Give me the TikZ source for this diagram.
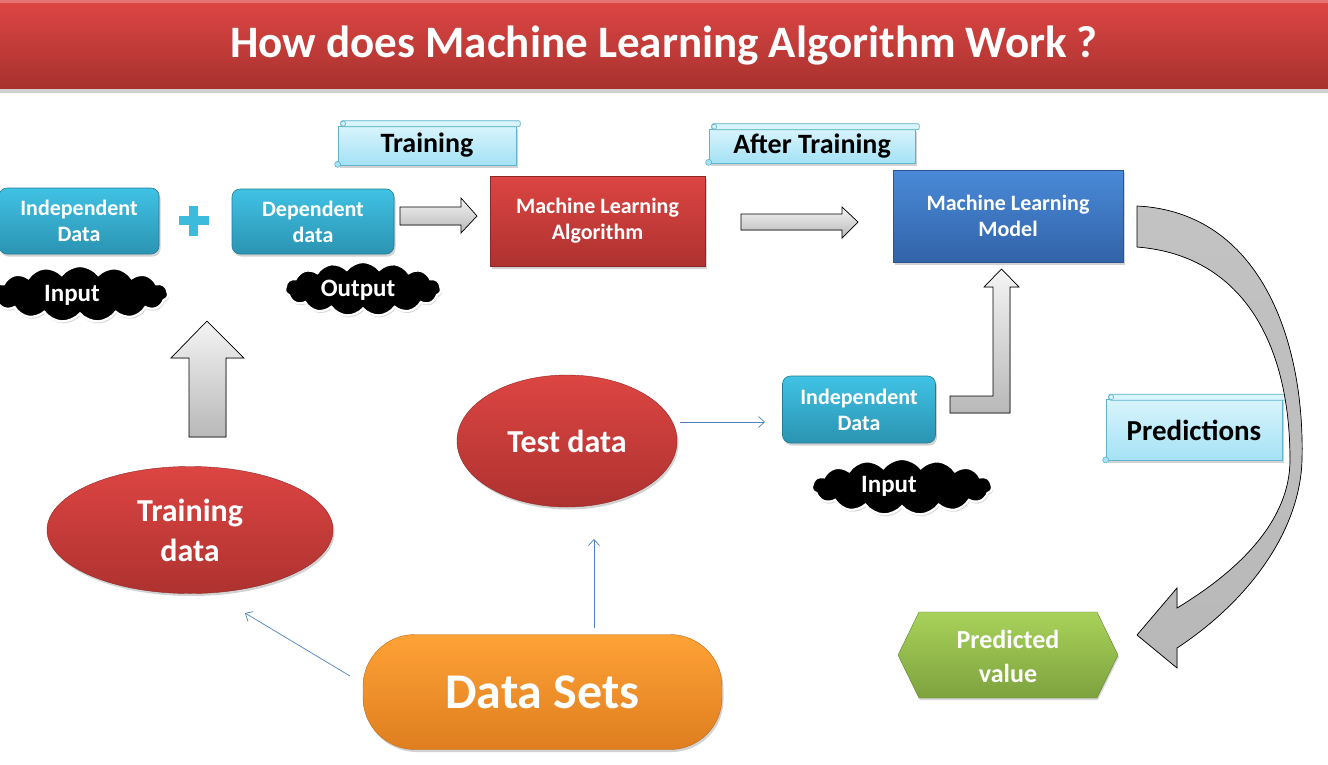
\documentclass[tikz,border=0pt]{standalone}
\usepackage{fontspec}
\setmainfont{Carlito}
\usetikzlibrary{shapes.geometric,shapes.symbols,shadows,calc,arrows.meta}
\definecolor{barT}{HTML}{DE4744}
\definecolor{barB}{HTML}{A8312E}
\definecolor{redT}{HTML}{DC4542}
\definecolor{redB}{HTML}{AE3230}
\definecolor{redD}{HTML}{8E2826}
\definecolor{cyanT}{HTML}{40C2E4}
\definecolor{cyanB}{HTML}{2B93B2}
\definecolor{cyanD}{HTML}{237C96}
\definecolor{blueT}{HTML}{4A8AD8}
\definecolor{blueB}{HTML}{3163A8}
\definecolor{blueD}{HTML}{2A5592}
\definecolor{orT}{HTML}{FFA236}
\definecolor{orB}{HTML}{DE7E1F}
\definecolor{grT}{HTML}{A8D25A}
\definecolor{grB}{HTML}{7DA23E}
\definecolor{scT}{HTML}{D8F4FC}
\definecolor{scB}{HTML}{A4E2F5}
\definecolor{scD}{HTML}{5FB3CB}
\definecolor{arT}{HTML}{F4F4F4}
\definecolor{arB}{HTML}{B8B8B8}
\definecolor{thin}{HTML}{4F81BD}
\tikzset{
  base/.style={align=center, text=white, font=\bfseries\fontsize{22}{26}\selectfont, inner sep=0pt},
  shad/.style={drop shadow={opacity=0.35, shadow xshift=1.5pt, shadow yshift=-2.5pt}},
  cyanbox/.style={base, rectangle, rounded corners=8pt, top color=cyanT, bottom color=cyanB, draw=cyanD, line width=0.6pt, shad},
  redbox/.style={base, rectangle, top color=redT, bottom color=redB, draw=redD, line width=0.6pt, shad},
  bluebox/.style={base, rectangle, top color=blueT, bottom color=blueB, draw=blueD, line width=0.6pt, shad},
  redell/.style={base, ellipse, top color=redT, bottom color=redB, draw=redD, line width=0.4pt, shad, font=\bfseries\fontsize{32}{40}\selectfont},
  pill/.style={base, rectangle, rounded corners=52pt, top color=orT, bottom color=orB, draw=orB!85!black, line width=0.4pt, shad, font=\bfseries\fontsize{50}{56}\selectfont},
  cloudshape/.style={cloud, cloud puffs=15, cloud puff arc=105, inner sep=0pt, fill=black, draw=white, line width=2.2pt, drop shadow={opacity=0.3, shadow xshift=1pt, shadow yshift=-2pt}},
  cloudtext/.style={base, font=\bfseries\fontsize{25}{28}\selectfont},
  scrollbox/.style={rectangle, inner sep=0pt, top color=scT, bottom color=scB, draw=scD, line width=0.7pt, text=black, font=\bfseries\fontsize{28}{30}\selectfont, shad},
  blockarrow/.style={top color=arT, bottom color=arB, draw=black, line width=0.7pt},
  thinarr/.style={draw=thin, line width=0.7pt, -{Straight Barb[length=6pt,width=11pt]}},
}
\newcommand\scrolldeco[1]{%
  \draw[fill=scT, draw=scD, line width=0.7pt, rounded corners=2pt]
    ($(#1.north west)+(3,1)$) rectangle ($(#1.north east)+(4,-5)$);
  \draw[fill=scT, draw=scD, line width=0.6pt] ($(#1.north west)+(5.5,-2)$) circle (2.5pt);
  \draw[fill=scB, draw=scD, line width=0.6pt] ($(#1.south west)+(0,-1)$) circle (3pt);
}
\begin{document}
\begin{tikzpicture}[x=1pt,y=-1pt]
\useasboundingbox (0,0) rectangle (1328,764);
\fill[white] (0,0) rectangle (1328,764);

% title bar
\fill[black, opacity=0.18] (0,88) rectangle (1328,93);
\shade[top color=barT, bottom color=barB] (0,0) rectangle (1328,88);
\fill[white, opacity=0.25] (0,0) rectangle (1328,3);
\node[base, font=\bfseries\fontsize{45}{50}\selectfont] (title) at (664,46) {How does Machine Learning Algorithm Work ?};

% scrolls
\node[scrollbox, minimum width=178pt, minimum height=39pt] (trs) at (427,145.5) {Training};
\scrolldeco{trs}
\node[scrollbox, minimum width=206pt, minimum height=34pt] (ats) at (812,146) {After Training};
\scrolldeco{ats}
\node[scrollbox, minimum width=176pt, minimum height=61pt, font=\bfseries\fontsize{29}{30}\selectfont] (prs) at (1194,430) {Predictions};
\scrolldeco{prs}

% top row
\node[cyanbox, minimum width=160pt, minimum height=66pt] (indL) at (79,221) {Independent\\Data};
\node[cyanbox, minimum width=162pt, minimum height=65pt] (dep) at (313,221.5) {Dependent\\data};
\node[redbox, minimum width=215pt, minimum height=90pt] (mla) at (597.5,221) {Machine Learning\\Algorithm};
\node[bluebox, minimum width=230pt, minimum height=92pt] (mlm) at (1008,216) {Machine Learning\\Model};

% plus sign
\coordinate (pc) at (193.5,220.5);
\filldraw[fill=cyanT!85!cyanB, draw=white, line width=3pt, line join=miter, drop shadow={opacity=0.3, shadow xshift=1pt, shadow yshift=-1.5pt}]
  ($(pc)+(-5.7,-16.5)$) -- ($(pc)+(5.7,-16.5)$) -- ($(pc)+(5.7,-5.7)$) -- ($(pc)+(16.5,-5.7)$)
  -- ($(pc)+(16.5,5.7)$) -- ($(pc)+(5.7,5.7)$) -- ($(pc)+(5.7,16.5)$) -- ($(pc)+(-5.7,16.5)$)
  -- ($(pc)+(-5.7,5.7)$) -- ($(pc)+(-16.5,5.7)$) -- ($(pc)+(-16.5,-5.7)$) -- ($(pc)+(-5.7,-5.7)$) -- cycle;

% clouds
\node[cloudshape, minimum width=176pt, minimum height=56pt] (cl1) at (80,294) {};
\node[cloudtext] (cin1) at (72,295) {Input};
\node[cloudshape, minimum width=156pt, minimum height=54pt] (cl2) at (363,289) {};
\node[cloudtext] (cout) at (358,290) {Output};
\node[cloudshape, minimum width=180pt, minimum height=56pt] (cl3) at (902,487) {};
\node[cloudtext] (cin2) at (889,486) {Input};

% block arrows
\filldraw[blockarrow] (400,207) -- (461,207) -- (461,198) -- (477,216) -- (461,233) -- (461,225) -- (400,225) -- cycle;
\filldraw[blockarrow] (741,214) -- (842,214) -- (842,207) -- (858,222) -- (842,238) -- (842,230) -- (741,230) -- cycle;
\filldraw[blockarrow] (189,437) -- (189,358) -- (171,358) -- (207,321) -- (244,358) -- (226,358) -- (226,437) -- cycle;
\filldraw[blockarrow] (950,396) -- (993,396) -- (993,287) -- (984,287) -- (1001.5,269) -- (1019,287) -- (1010,287) -- (1010,413) -- (950,413) -- cycle;
% curved arrow
\filldraw[draw=black, line width=0.7pt, top color=arB!85!white, bottom color=arB]
  (1137,206) .. controls (1260,212) and (1305,340) .. (1302,460)
  .. controls (1300,530) and (1250,600) .. (1177,648)
  -- (1177,668) -- (1137,635) -- (1177,588) -- (1177,608)
  .. controls (1240,570) and (1290,520) .. (1290,460)
  .. controls (1290,340) and (1240,255) .. (1137,247) -- cycle;

% ellipses and data sets
\node[redell, minimum width=286pt, minimum height=127pt] (trd) at (190,530) {Training\\data};
\node[redell, minimum width=220pt, minimum height=132pt] (ted) at (567,441) {Test data};
\node[cyanbox, minimum width=153pt, minimum height=67pt] (indR) at (859,409.5) {Independent\\Data};
\node[pill, minimum width=359pt, minimum height=115pt] (ds) at (542.5,692) {Data Sets};

% predicted value hexagon
\shade[top color=grT, bottom color=grB, drop shadow={opacity=0.3, shadow xshift=1pt, shadow yshift=-2pt}]
  (898,655) -- (919,612) -- (1097,612) -- (1118,655) -- (1097,698) -- (919,698) -- cycle;
\draw[grB!80!black, line width=0.4pt] (898,655) -- (919,612) -- (1097,612) -- (1118,655) -- (1097,698) -- (919,698) -- cycle;
\node[base, font=\bfseries\fontsize{26}{34}\selectfont] (pv) at (1008,656) {Predicted\\value};

% thin connectors
\coordinate (s1) at (350,676);
\coordinate (e1) at (245,613);
\coordinate (s2) at (594,628);
\coordinate (e2) at (594,539);
\coordinate (s3) at (680,422);
\coordinate (e3) at (765,422);
\draw[thinarr] (s1) -- (e1);
\draw[thinarr] (s2) -- (e2);
\draw[thinarr] (s3) -- (e3);
\end{tikzpicture}
\end{document}
